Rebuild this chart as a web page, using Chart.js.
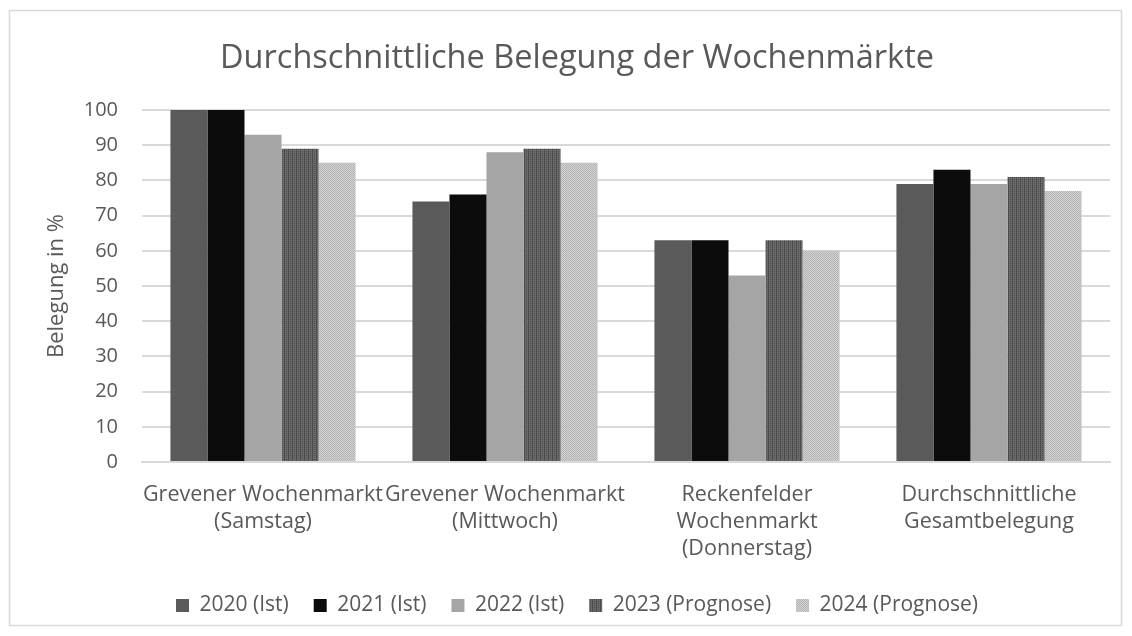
<!DOCTYPE html>
<html><head><meta charset="utf-8">
<script src="https://cdn.jsdelivr.net/npm/chart.js@4/dist/chart.umd.min.js"></script>
<style>html,body{margin:0;padding:0;background:#fff}#wrap{width:1132px;height:636px;position:relative}</style>
</head><body><div id="wrap"><canvas id="c" width="1132" height="636"></canvas></div>
<script>
const categories = [["Grevener Wochenmarkt","(Samstag)"],["Grevener Wochenmarkt","(Mittwoch)"],["Reckenfelder","Wochenmarkt","(Donnerstag)"],["Durchschnittliche","Gesamtbelegung"]];
const seriesNames = ["2020 (Ist)","2021 (Ist)","2022 (Ist)","2023 (Prognose)","2024 (Prognose)"];
const v2020 = [100, 74, 63, 79];
const v2021 = [100, 76, 63, 83];
const v2022 = [93, 88, 53, 79];
const v2023 = [89, 89, 63, 81];
const v2024 = [85, 85, 60, 77];
const yTicks = [0,10,20,30,40,50,60,70,80,90,100];

function makePattern(kind){
  const p=document.createElement('canvas'); p.width=4; p.height=4;
  const x=p.getContext('2d');
  if(kind==='dots'){
    x.fillStyle='#6a6a6a'; x.fillRect(0,0,4,4);
    x.fillStyle='#4c4c4c';
    x.fillRect(0,0,1,4); x.fillRect(2,1,1,1); x.fillRect(2,3,1,1);
  } else {
    p.width=2; p.height=2;
    x.fillStyle='#d2d2d2'; x.fillRect(0,0,2,2);
    x.fillStyle='#b4b4b4'; x.fillRect(0,0,1,1); x.fillRect(1,1,1,1);
  }
  return x.createPattern(p,'repeat');
}
const ctx=document.getElementById('c').getContext('2d');
const fills=['#5a5a5a','#0c0c0c','#a5a5a5',makePattern('dots'),makePattern('diag')];
const values=[v2020,v2021,v2022,v2023,v2024];
const FONT="'Open Sans', sans-serif";
const frame={id:'frame',beforeDraw(c){const g=c.ctx;g.save();g.fillStyle='#fff';g.fillRect(0,0,c.width,c.height);g.strokeStyle='#d9d9d9';g.lineWidth=1.5;g.strokeRect(9.5,10.5,1112,615);g.restore();}};
new Chart(ctx,{
  type:'bar',
  data:{labels:categories,datasets:seriesNames.map((n,i)=>({label:n,data:values[i],backgroundColor:fills[i],borderWidth:0,categoryPercentage:0.765,barPercentage:1}))},
  options:{
    responsive:false,animation:false,
    layout:{padding:{left:44,right:22,top:24,bottom:10}},
    plugins:{
      title:{display:true,text:'Durchschnittliche Belegung der Wochenmärkte',color:'#595959',font:{family:FONT,size:32.5,weight:'normal'},padding:{top:15,bottom:32}},
      legend:{position:'bottom',labels:{color:'#595959',font:{family:FONT,size:21},boxWidth:13,boxHeight:13,padding:25}},
      tooltip:{enabled:false}
    },
    scales:{
      x:{grid:{display:false},border:{display:true,color:'#d9d9d9',width:2},ticks:{color:'#595959',font:{family:FONT,size:21.5,lineHeight:1.256},maxRotation:0,autoSkip:false,padding:11},
        afterFit(s){s.height=108;}},
      y:{min:0,max:100,afterBuildTicks(s){s.ticks=yTicks.map(v=>({value:v}));},grid:{color:'#d9d9d9',lineWidth:2,drawTicks:false},border:{display:false},
        ticks:{color:'#595959',font:{family:FONT,size:20},padding:24},
        title:{display:true,text:'Belegung in %',color:'#595959',font:{family:FONT,size:22},padding:{top:0,bottom:0}},
        afterFit(s){s.width=98;}}
    }
  },
  plugins:[frame]
});
</script></body></html>
